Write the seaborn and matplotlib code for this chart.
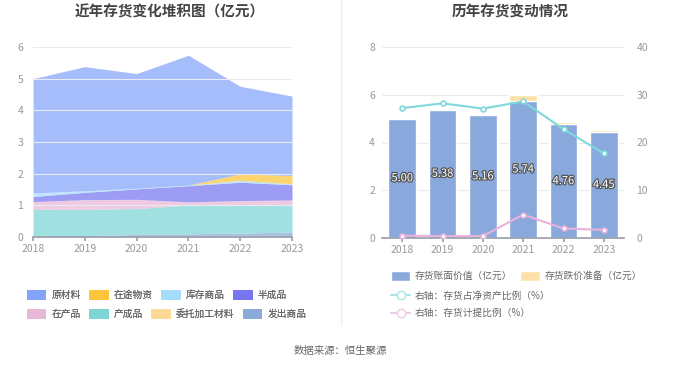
import matplotlib
matplotlib.use('Agg')
import matplotlib.pyplot as plt
import matplotlib.patheffects as pe
from matplotlib.patches import Patch
from matplotlib.lines import Line2D
import seaborn as sns
import numpy as np
import pandas as pd

years = [2018, 2019, 2020, 2021, 2022, 2023]

# stacked area components (亿元), legend order
raw_material = [3.61, 3.92, 3.62, 4.10, 2.77, 2.51]
in_transit = [0.0, 0.0, 0.0, 0.0, 0.20, 0.26]
stock_goods = [0.11, 0.05, 0.02, 0.02, 0.06, 0.03]
semi_finished = [0.16, 0.23, 0.33, 0.51, 0.58, 0.48]
in_process = [0.24, 0.31, 0.29, 0.10, 0.15, 0.17]
finished = [0.83, 0.83, 0.82, 0.91, 0.88, 0.84]
consigned = [0.0, 0.0, 0.0, 0.0, 0.0, 0.0]
shipped = [0.05, 0.04, 0.08, 0.10, 0.12, 0.16]

area_names = ['原材料', '在途物资', '库存商品', '半成品', '在产品', '产成品', '委托加工材料', '发出商品']
area_colors = ['#84a4fb', '#fcc53b', '#a6dcfb', '#7676f0', '#e8b8d8', '#7dd4d4', '#fdd998', '#8aaad8']

# right chart
book_value = [5.00, 5.38, 5.16, 5.74, 4.76, 4.45]
provision = [0.03, 0.02, 0.02, 0.25, 0.09, 0.08]
asset_ratio = [27.2, 28.2, 27.1, 28.6, 22.8, 17.7]
provision_ratio = [0.5, 0.4, 0.4, 4.9, 2.0, 1.7]

sns.set_theme(style='white')
plt.rcParams['font.family'] = ['Noto Sans CJK SC', 'DejaVu Sans']

fig = plt.figure(figsize=(6.8, 3.67), dpi=100)
tick_color = '#999999'
grid_color = '#e8ebf2'
W, H = 680, 367

# ---------- left: stacked area ----------
ax1 = fig.add_axes([33 / W, 1 - 237 / H, (292 - 33) / W, (237 - 47) / H])
series = [raw_material, in_transit, stock_goods, semi_finished, in_process, finished, consigned, shipped]
ax1.stackplot(years, *series[::-1], colors=area_colors[::-1], alpha=0.72, linewidth=0)
ax1.set_xlim(2018, 2023)
ax1.set_ylim(0, 6)
ax1.set_yticks(range(0, 7))
ax1.set_xticks(years)
ax1.yaxis.grid(True, color=grid_color, linewidth=0.8)
ax1.set_axisbelow(False)
for s in ['top', 'right', 'left']:
    ax1.spines[s].set_visible(False)
ax1.spines['bottom'].set_color('#9aa0ab')
ax1.tick_params(axis='x', colors=tick_color, labelsize=7.5, length=3, direction='out', pad=2, color='#9aa0ab', bottom=True)
ax1.tick_params(axis='y', colors=tick_color, labelsize=7.5, length=0, pad=7)

fig.text(170 / W, 1 - 12 / H, '近年存货变化堆积图（亿元）', ha='center', va='center',
         fontsize=10.5, fontweight='bold', color='#444444')

# legend laid out as two independent rows (flow layout)
leg_kw = dict(ncol=4, loc='upper left', frameon=False, fontsize=7, labelcolor='#666666',
              handlelength=2.0, handleheight=1.2, columnspacing=0.9, handletextpad=0.5, borderpad=0)
for row, top in [(range(0, 4), 285), (range(4, 8), 304)]:
    hs = [Patch(facecolor=area_colors[i], edgecolor='none') for i in row]
    ls = [area_names[i] for i in row]
    leg = fig.legend(hs, ls, bbox_to_anchor=(22 / W, 1 - top / H), **leg_kw)
    fig.add_artist(leg)

# ---------- right: bars + lines ----------
ax2 = fig.add_axes([382 / W, 1 - 238 / H, (624 - 382) / W, (238 - 47) / H])
df = pd.DataFrame({'year': [str(y) for y in years], 'book': book_value,
                   'total': np.array(book_value) + np.array(provision)})
sns.barplot(data=df, x='year', y='total', color='#fde0a8', width=0.68, ax=ax2, saturation=1)
sns.barplot(data=df, x='year', y='book', color='#89a9dc', width=0.68, ax=ax2, saturation=1)
ax2.set_xlim(-0.5, 5.5)
ax2.set_ylim(0, 8)
ax2.set_yticks([0, 2, 4, 6, 8])
ax2.set_xlabel('')
ax2.set_ylabel('')
ax2.yaxis.grid(True, color=grid_color, linewidth=0.8)
ax2.set_axisbelow(True)
for s in ['top', 'right', 'left']:
    ax2.spines[s].set_visible(False)
ax2.spines['bottom'].set_color('#9aa0ab')
ax2.tick_params(axis='x', colors=tick_color, labelsize=7.5, length=3, pad=2, color='#9aa0ab', bottom=True)
ax2.tick_params(axis='y', colors=tick_color, labelsize=7.5, length=0, pad=5)
for i, v in enumerate(book_value):
    ax2.text(i, v / 2, f'{v:.2f}', ha='center', va='center', fontsize=8, color='white',
             path_effects=[pe.withStroke(linewidth=1.8, foreground='#555555')])

fig.text(510 / W, 1 - 12 / H, '历年存货变动情况', ha='center', va='center',
         fontsize=10.5, fontweight='bold', color='#444444')

ax3 = ax2.twinx()
x = np.arange(len(years))
ax3.plot(x, asset_ratio, color='#7fd8dc', linewidth=1.5, marker='o', markersize=3.5,
         markerfacecolor='white', markeredgewidth=1.2)
ax3.plot(x, provision_ratio, color='#e9b2dc', linewidth=1.5, marker='o', markersize=3.5,
         markerfacecolor='white', markeredgewidth=1.2)
ax3.set_ylim(0, 40)
ax3.set_yticks([0, 10, 20, 30, 40])
ax3.grid(False)
for s in ['top', 'right', 'left', 'bottom']:
    ax3.spines[s].set_visible(False)
ax3.tick_params(axis='y', colors=tick_color, labelsize=7.5, length=0, pad=9)

bar_handles = [Patch(facecolor='#89a9dc'), Patch(facecolor='#fde0a8')]
leg1 = fig.legend(bar_handles, ['存货账面价值（亿元）', '存货跌价准备（亿元）'], ncol=2,
                  loc='upper left', bbox_to_anchor=(386 / W, 1 - 266 / H), frameon=False, fontsize=7,
                  labelcolor='#666666', handlelength=2.0, handleheight=1.2, columnspacing=0.8,
                  handletextpad=0.5, borderpad=0)
line_handles = [Line2D([], [], color='#a8e6e8', marker='o', markerfacecolor='white', markersize=6),
                Line2D([], [], color='#f0cbe6', marker='o', markerfacecolor='white', markersize=6)]
fig.legend(line_handles, ['右轴：存货占净资产比例（%）', '右轴：存货计提比例（%）'], ncol=1,
           loc='upper left', bbox_to_anchor=(386 / W, 1 - 286 / H), frameon=False, fontsize=7,
           labelcolor='#666666', handlelength=2.0, handletextpad=0.5, labelspacing=0.75, borderpad=0)

# separator and source
fig.add_artist(Line2D([341 / W, 341 / W], [1 - 325 / H, 1.0], color='#eeeeee', linewidth=1))
fig.text(0.5, 1 - 351 / H, '数据来源：恒生聚源', ha='center', va='center', fontsize=7.5, color='#666666')

fig.savefig('out.png', dpi=100, facecolor='white')
